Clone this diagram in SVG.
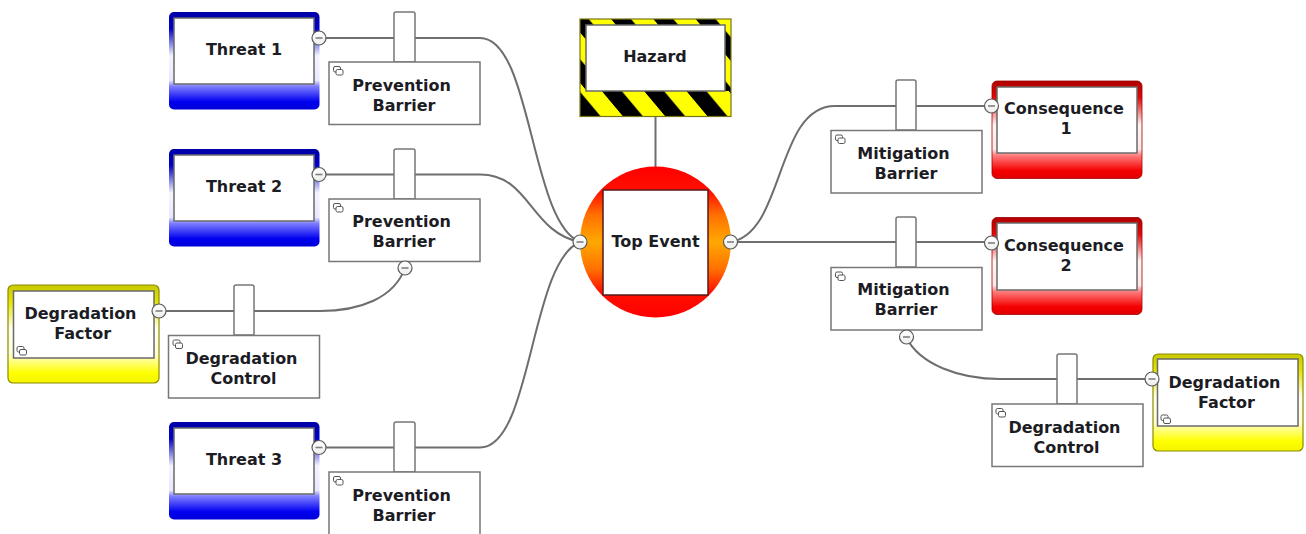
<svg xmlns="http://www.w3.org/2000/svg" xmlns:xlink="http://www.w3.org/1999/xlink" width="1306" height="534" viewBox="0 0 1306 534">
<style>
text{font-family:"DejaVu Sans","Liberation Sans",sans-serif;font-weight:bold;font-size:16px;fill:#1c1c24;text-anchor:middle}
.conn{fill:none;stroke:#6e6e6e;stroke-width:2}
.inner{fill:#fff;stroke:#6a6a6a;stroke-width:1.5}
.box{fill:#fff;stroke:#777;stroke-width:1.5}
.stem{fill:#fff;stroke:#777;stroke-width:1.5}
.bt{fill:url(#btn);stroke:#5a5a5a;stroke-width:1.2}
.mn{fill:none;stroke:#808080;stroke-width:1.6}
.ic{fill:#fff;stroke:#555;stroke-width:1}
</style>
<defs>
<linearGradient id="blue" x1="0" y1="0" x2="0" y2="1"><stop offset="0" stop-color="#0000a8"/><stop offset=".17" stop-color="#0000c8"/><stop offset=".45" stop-color="#f4f4ff"/><stop offset=".7" stop-color="#e8e8ff"/><stop offset=".76" stop-color="#8080ff"/><stop offset=".92" stop-color="#0000f0"/><stop offset="1" stop-color="#0000d8"/></linearGradient>
<linearGradient id="red" x1="0" y1="0" x2="0" y2="1"><stop offset="0" stop-color="#b00000"/><stop offset=".17" stop-color="#e00808"/><stop offset=".45" stop-color="#fff4f4"/><stop offset=".7" stop-color="#ffe8e8"/><stop offset=".76" stop-color="#ff8080"/><stop offset=".92" stop-color="#f40000"/><stop offset="1" stop-color="#e00000"/></linearGradient>
<linearGradient id="yel" x1="0" y1="0" x2="0" y2="1"><stop offset="0" stop-color="#c8c800"/><stop offset=".17" stop-color="#e4e400"/><stop offset=".45" stop-color="#fffff0"/><stop offset=".7" stop-color="#ffffd8"/><stop offset=".78" stop-color="#ffff80"/><stop offset=".9" stop-color="#ffff00"/><stop offset="1" stop-color="#f4f400"/></linearGradient>
<linearGradient id="fire" x1="0" y1="0" x2="0" y2="1"><stop offset="0" stop-color="#ff0000"/><stop offset=".17" stop-color="#ff1000"/><stop offset=".32" stop-color="#ff7000"/><stop offset=".5" stop-color="#ffa800"/><stop offset=".68" stop-color="#ff7000"/><stop offset=".83" stop-color="#ff1000"/><stop offset="1" stop-color="#ff0000"/></linearGradient>
<linearGradient id="btn" x1="0" y1="0" x2="0" y2="1"><stop offset="0" stop-color="#fff"/><stop offset="1" stop-color="#eceeec"/></linearGradient>
<pattern id="hz1" patternUnits="userSpaceOnUse" width="42.3" height="42" patternTransform="translate(601.7 91) skewX(40)"><rect width="42.3" height="42" fill="#ffff00"/><rect width="20" height="42" fill="#000"/></pattern>
<pattern id="hz2" patternUnits="userSpaceOnUse" width="42.3" height="42" patternTransform="translate(611 19) skewX(40)"><rect width="42.3" height="42" fill="#ffff00"/><rect width="20" height="42" fill="#000"/></pattern>
<g id="stack"><rect class="ic" x="0" y="0" width="7" height="5.5" rx="1.5"/><rect class="ic" x="2.5" y="3" width="7" height="5.5" rx="1.5"/></g>
<g id="minus"><circle class="bt" r="7"/><path class="mn" d="M-3.5 0H3.5"/></g>
</defs>
<rect width="1306" height="534" fill="#fff"/>
<g id="connectors">
<path class="conn" d="M319 38H480C532 38 530 222 580 242"/>
<path class="conn" d="M319 174.500H480C530 174.500 530 232 580 242"/>
<path class="conn" d="M319 447.500H480C532 447.500 530 262 580 242"/>
<path class="conn" d="M159 311H320C360 311 394 298 405 268"/>
<path class="conn" d="M730 242C785 235 775 106 835 106H991"/>
<path class="conn" d="M730 242H991"/>
<path class="conn" d="M906 337C920 365 960 379 1000 379H1152"/>
<path class="conn" d="M655.500 116V170"/>
</g>
<g id="hazard">
<rect x="580" y="19" width="151" height="72" fill="url(#hz2)"/>
<rect x="580" y="91" width="151" height="25.500" fill="url(#hz1)"/>
<rect x="580" y="19" width="151" height="97.500" fill="none" stroke="#77771a" stroke-width="1.2"/>
<rect class="inner" x="586" y="25" width="139" height="66"/>
<text x="655" y="62">Hazard</text>
</g>
<g id="top-event">
<circle cx="655.500" cy="242" r="75.500" fill="url(#fire)"/>
<rect x="603" y="190" width="105" height="105" fill="#fff" stroke="#5a1a1a" stroke-width="1.5"/>
<text x="655.500" y="247">Top Event</text>
<use xlink:href="#minus" href="#minus" x="580" y="242"/>
<use xlink:href="#minus" href="#minus" x="730.500" y="242"/>
</g>
<g id="threat-1">
<rect x="169" y="12" width="150.500" height="97.500" rx="5" fill="url(#blue)"/>
<rect class="inner" x="174" y="18" width="140" height="66"/>
<text x="244" y="55">Threat 1</text>
<use xlink:href="#minus" href="#minus" x="319" y="38"/>
</g>
<g id="barrier-1">
<path class="stem" d="M394 62V14Q394 12 396 12H413Q415 12 415 14V62Z"/>
<rect class="box" x="329" y="62" width="151" height="62.500"/>
<use xlink:href="#stack" href="#stack" x="333.500" y="66.500"/>
<text x="401.500" y="91">Prevention</text><text x="404" y="111">Barrier</text>
</g>
<g id="threat-2">
<rect x="169" y="149" width="150.500" height="97.500" rx="5" fill="url(#blue)"/>
<rect class="inner" x="174" y="155" width="140" height="66"/>
<text x="244" y="192">Threat 2</text>
<use xlink:href="#minus" href="#minus" x="319" y="174.500"/>
</g>
<g id="barrier-2">
<path class="stem" d="M394 199V151Q394 149 396 149H413Q415 149 415 151V199Z"/>
<rect class="box" x="329" y="199" width="151" height="62.500"/>
<use xlink:href="#stack" href="#stack" x="333.500" y="203.500"/>
<text x="401.500" y="227">Prevention</text><text x="404" y="247">Barrier</text>
<use xlink:href="#minus" href="#minus" x="405" y="268"/>
</g>
<g id="degradation-factor-left">
<rect x="8" y="285" width="151" height="98" rx="5" fill="url(#yel)" stroke="#8c8c00" stroke-width="1.2"/>
<rect class="inner" x="13.500" y="291" width="140.500" height="67"/>
<use xlink:href="#stack" href="#stack" x="17" y="346.500"/>
<text x="80.500" y="319">Degradation</text><text x="82.700" y="339">Factor</text>
<use xlink:href="#minus" href="#minus" x="159" y="311"/>
</g>
<g id="degradation-control-left">
<path class="stem" d="M234 335V287Q234 285 236 285H252Q254 285 254 287V335Z"/>
<rect class="box" x="168.500" y="335.500" width="151" height="62.500"/>
<use xlink:href="#stack" href="#stack" x="173" y="340"/>
<text x="241.500" y="364">Degradation</text><text x="243.500" y="384">Control</text>
</g>
<g id="threat-3">
<rect x="169" y="422" width="150.500" height="97.500" rx="5" fill="url(#blue)"/>
<rect class="inner" x="174" y="428" width="140" height="66"/>
<text x="244" y="465">Threat 3</text>
<use xlink:href="#minus" href="#minus" x="319" y="447.500"/>
</g>
<g id="barrier-3">
<path class="stem" d="M394 472V424Q394 422 396 422H413Q415 422 415 424V472Z"/>
<rect class="box" x="329" y="472" width="151" height="66"/>
<use xlink:href="#stack" href="#stack" x="333.500" y="476.500"/>
<text x="401.500" y="501">Prevention</text><text x="404" y="521">Barrier</text>
</g>
<g id="barrier-4">
<path class="stem" d="M896 130V82Q896 80 898 80H914Q916 80 916 82V130Z"/>
<rect class="box" x="831" y="130.500" width="151" height="62.500"/>
<use xlink:href="#stack" href="#stack" x="835.500" y="135"/>
<text x="903.500" y="159">Mitigation</text><text x="906" y="179">Barrier</text>
</g>
<g id="consequence-1">
<rect x="992" y="81" width="150" height="97.500" rx="5" fill="url(#red)" stroke="#a00000" stroke-width=".8"/>
<rect class="inner" x="997" y="87" width="140" height="66"/>
<text x="1064" y="114">Consequence</text><text x="1066" y="134">1</text>
<use xlink:href="#minus" href="#minus" x="991.500" y="106"/>
</g>
<g id="barrier-5">
<path class="stem" d="M896 267V219Q896 217 898 217H914Q916 217 916 219V267Z"/>
<rect class="box" x="831" y="267.500" width="151" height="62.500"/>
<use xlink:href="#stack" href="#stack" x="835.500" y="272"/>
<text x="903.500" y="295">Mitigation</text><text x="906" y="315">Barrier</text>
<use xlink:href="#minus" href="#minus" x="906.500" y="337"/>
</g>
<g id="consequence-2">
<rect x="992" y="217.500" width="150" height="97" rx="5" fill="url(#red)" stroke="#a00000" stroke-width=".8"/>
<rect class="inner" x="997" y="223" width="140" height="67"/>
<text x="1064" y="251">Consequence</text><text x="1066" y="271">2</text>
<use xlink:href="#minus" href="#minus" x="991.500" y="243"/>
</g>
<g id="degradation-control-right">
<path class="stem" d="M1057 404V356Q1057 354 1059 354H1075Q1077 354 1077 356V404Z"/>
<rect class="box" x="992" y="404" width="151" height="62.500"/>
<use xlink:href="#stack" href="#stack" x="996" y="408.500"/>
<text x="1064.500" y="433">Degradation</text><text x="1066.500" y="453">Control</text>
</g>
<g id="degradation-factor-right">
<rect x="1153" y="354" width="150" height="97" rx="5" fill="url(#yel)" stroke="#8c8c00" stroke-width="1.2"/>
<rect class="inner" x="1157.500" y="359" width="140.500" height="67"/>
<use xlink:href="#stack" href="#stack" x="1161" y="415"/>
<text x="1224.500" y="388">Degradation</text><text x="1226.500" y="408">Factor</text>
<use xlink:href="#minus" href="#minus" x="1152" y="379"/>
</g>
</svg>
